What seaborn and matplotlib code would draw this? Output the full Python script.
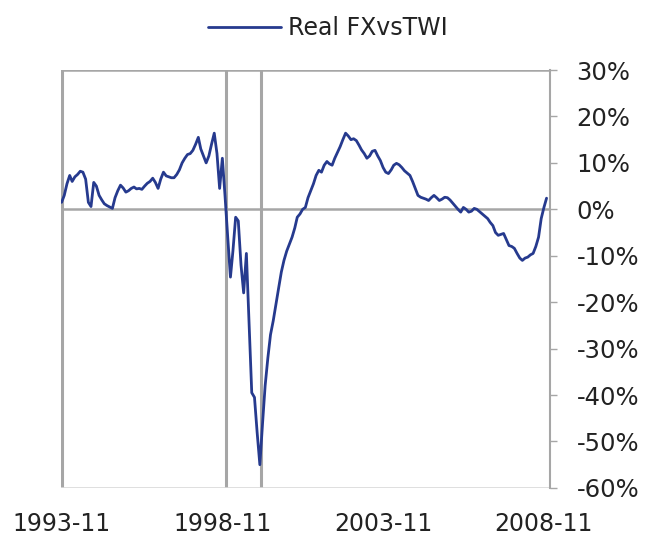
import pandas as pd
import numpy as np
import matplotlib
matplotlib.use('Agg')
import matplotlib.pyplot as plt
import seaborn as sns
from matplotlib.ticker import FuncFormatter

# Monthly series, 1993-11 .. 2008-12 (values in %)
start_month = '1993-11-01'
real_fx_vs_twi = [
    1.5, 3.0, 5.5, 7.3, 6.0, 7.0, 7.5, 8.2, 8.0, 6.5, 1.5, 0.6,
    5.8, 5.0, 3.0, 2.0, 1.2, 0.8, 0.5, 0.2, 2.5, 4.0, 5.2, 4.6,
    3.7, 4.0, 4.5, 4.8, 4.4, 4.5, 4.3, 5.0, 5.6, 6.0, 6.7, 5.8,
    4.5, 6.5, 8.0, 7.2, 7.0, 6.8, 6.8, 7.5, 8.5, 10.0, 11.0, 11.8,
    12.0, 12.7, 14.0, 15.5, 13.0, 11.5, 10.0, 11.5, 14.0, 16.4, 12.0, 4.5,
    11.0, 3.0, -6.0, -14.6, -9.0, -1.7, -2.5, -12.0, -18.0, -9.5, -25.0, -39.5,
    -40.5, -48.0, -55.0, -46.0, -38.0, -32.0, -27.0, -24.0, -20.5, -17.0, -13.5, -11.0,
    -9.0, -7.5, -6.0, -4.0, -1.7, -1.0, 0.0, 0.4, 2.5, 4.0, 5.5, 7.3,
    8.4, 8.0, 9.5, 10.3, 9.8, 9.5, 11.0, 12.3, 13.5, 15.0, 16.4, 15.8,
    15.0, 15.2, 14.8, 13.8, 12.8, 12.0, 11.0, 11.5, 12.5, 12.7, 11.5, 10.5,
    9.0, 8.0, 7.7, 8.5, 9.5, 9.9, 9.6, 9.0, 8.3, 7.8, 7.3, 6.0,
    4.5, 3.0, 2.6, 2.4, 2.2, 1.9, 2.5, 3.0, 2.5, 1.9, 2.2, 2.6,
    2.5, 2.0, 1.3, 0.6, 0.0, -0.6, 0.4, 0.0, -0.6, -0.4, 0.2, 0.0,
    -0.5, -1.0, -1.5, -2.0, -2.8, -3.5, -5.0, -5.6, -5.4, -5.2, -6.5, -7.8,
    -8.0, -8.4, -9.5, -10.5, -11.0, -10.5, -10.3, -9.8, -9.5, -8.0, -6.0, -2.0,
    0.4, 2.4,
]
marker_dates = ['1993-11-01', '1998-12-15', '2000-01-15']
tick_labels = ['1993-11', '1998-11', '2003-11', '2008-11']
y_ticks = [30, 20, 10, 0, -10, -20, -30, -40, -50, -60]

df = pd.DataFrame({
    'date': pd.date_range(start_month, periods=len(real_fx_vs_twi), freq='MS'),
    'value': real_fx_vs_twi,
})

sns.set_style('white')
plt.rcParams['font.family'] = ['DejaVu Sans']

fig = plt.figure(figsize=(6.53, 5.47), dpi=100)
ax = fig.add_axes([0.0934, 0.108, 0.749, 0.764])

grid_col = '#a6a6a6'
for d in marker_dates:
    ax.axvline(pd.Timestamp(d), color=grid_col, lw=2.2, zorder=1)
ax.axhline(0, color=grid_col, lw=1.8, zorder=1)
ax.axhline(30, color=grid_col, lw=1.8, zorder=1)
ax.axhline(-60, color='#d9d9d9', lw=1.2, zorder=1)

sns.lineplot(data=df, x='date', y='value', ax=ax, color='#263a8e',
             linewidth=2.0, label='Real FXvsTWI', zorder=3)

ax.set_xlim(pd.Timestamp('1993-10-25'), pd.Timestamp('2009-01-10'))
ax.set_ylim(-60, 30)

ax.set_xticks([pd.Timestamp(t + '-01') for t in tick_labels])
ax.set_xticklabels(tick_labels)
ax.set_yticks(y_ticks)
ax.yaxis.set_major_formatter(FuncFormatter(lambda v, p: f'{v:.0f}%'))
ax.yaxis.tick_right()
ax.tick_params(axis='y', which='major', right=True, length=5, width=1,
               color=grid_col, labelsize=17.5, labelcolor='#222222', pad=14)
ax.tick_params(axis='x', length=0, labelsize=17, labelcolor='#222222', pad=17)
ax.set_xlabel('')
ax.set_ylabel('')

for side in ['top', 'left', 'bottom']:
    ax.spines[side].set_visible(False)
ax.spines['right'].set_color(grid_col)
ax.spines['right'].set_linewidth(1.5)

ax.legend(loc='lower center', bbox_to_anchor=(0.545, 1.02), frameon=False,
          fontsize=17, handlelength=3.1, handletextpad=0.3, labelcolor='#222222')

fig.savefig('out.png', dpi=100)
